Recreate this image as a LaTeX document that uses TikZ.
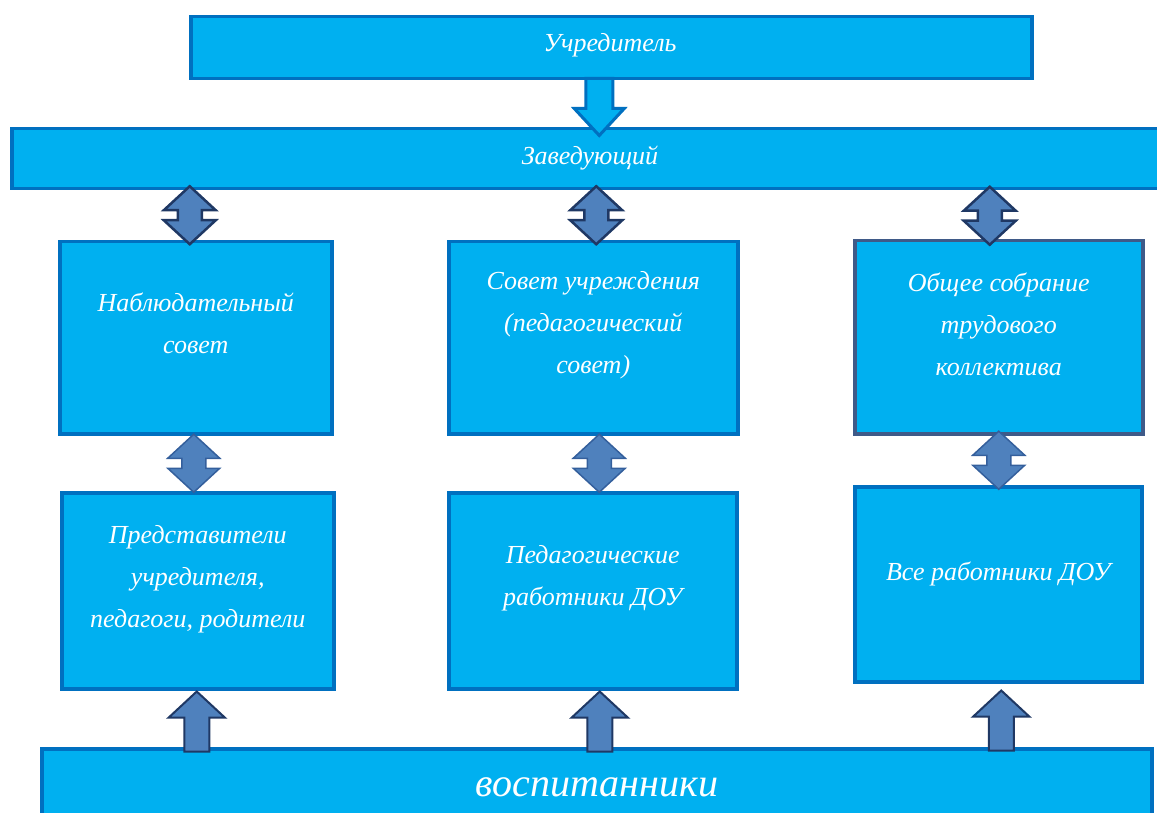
\documentclass[tikz,border=0pt]{standalone}
\usepackage{fontspec}
\setmainfont{Liberation Serif}
\usetikzlibrary{calc}
\definecolor{boxfill}{HTML}{00B0F0}
\definecolor{boxline}{HTML}{0070C0}
\definecolor{greyline}{HTML}{3F5A88}
\definecolor{arrfill}{HTML}{4F81BD}
\definecolor{arrdark}{HTML}{1F3864}
\definecolor{arrmid}{HTML}{345F9C}
\begin{document}
\begin{tikzpicture}[x=1pt,y=-1pt,
  box/.style={draw=boxline, fill=boxfill, line width=3.5pt, anchor=north west, inner sep=0pt},
  txt/.style={text=white, font=\itshape\fontsize{26}{42}\selectfont, align=center, inner sep=0pt},
  dblarrow/.pic={\path[pic actions] (0,-29) -- (26,-5) -- (12,-5) -- (12,5) -- (26,5) -- (0,29) -- (-26,5) -- (-12,5) -- (-12,-5) -- (-26,-5) -- cycle;},
  uparrow/.pic={\path[pic actions] (0,0) -- (28,26) -- (12.5,26) -- (12.5,60) -- (-12.5,60) -- (-12.5,26) -- (-28,26) -- cycle;},
  downarrow/.pic={\path[pic actions] (0,0) -- (25,-27) -- (13.5,-27) -- (13.5,-57) -- (-13.5,-57) -- (-13.5,-27) -- (-25,-27) -- cycle;},
  topdbl/.style={fill=arrfill, draw=arrdark, line width=2.5pt, line join=miter},
  lowdbl/.style={fill=arrfill, draw=arrmid, line width=1.5pt, line join=miter},
  uparr/.style={fill=arrfill, draw=arrdark, line width=2pt, line join=miter},
  downarr/.style={fill=boxfill, draw=boxline, line width=3pt, line join=miter}]
\useasboundingbox (0,0) rectangle (1157,813);

% boxes
\node[box, minimum width=841pt, minimum height=62pt] (uch) at (189,15) {};
\node[box, minimum width=1160pt, minimum height=60pt] (zav) at (10,127) {};
\node[box, minimum width=272pt, minimum height=192pt] (nab) at (58,240) {};
\node[box, minimum width=289pt, minimum height=192pt] (sov) at (447,240) {};
\node[box, draw=greyline, minimum width=288pt, minimum height=193pt] (obs) at (853,239) {};
\node[box, minimum width=272pt, minimum height=196pt] (pre) at (60,491) {};
\node[box, minimum width=288pt, minimum height=196pt] (ped) at (447,491) {};
\node[box, minimum width=287pt, minimum height=195pt] (vse) at (853,485) {};
\node[box, minimum width=1110pt, minimum height=90pt] (vos) at (40,747) {};

% texts
\node[txt] (tuch) at (610,45) {Учредитель};
\node[txt] (tzav) at (590,158) {Заведующий};
\node[txt] (tnab) at ($(nab.center)+(0,-14)$) {Наблюдательный\\совет};
\node[txt] (tsov) at ($(sov.center)+(0,-13)$) {Совет учреждения\\(педагогический\\совет)};
\node[txt] (tobs) at ($(obs.center)+(0,-13)$) {Общее собрание\\трудового\\коллектива};
\node[txt] (tpre) at ($(pre.center)+(0,-12)$) {Представители\\учредителя,\\педагоги, родители};
\node[txt] (tped) at ($(ped.center)+(0,-13)$) {Педагогические\\работники ДОУ};
\node[txt] (tvse) at ($(vse.center)+(0,-10)$) {Все работники ДОУ};
\node[txt, font=\itshape\fontsize{40}{44}\selectfont] (tvos) at (597,787) {воспитанники};

% arrows
\pic[downarr] at ($(uch.south)!0!(uch.south)+(-12,55)$) {downarrow};

\coordinate (m1) at ($(nab.north)!0.5!(nab.north |- zav.south)$);
\coordinate (m2) at ($(sov.north)!0.5!(sov.north |- zav.south)$);
\coordinate (m3) at ($(obs.north)!0.5!(obs.north |- zav.south)$);
\pic[topdbl] at ($(m1)+(-6,0)$) {dblarrow};
\pic[topdbl] at ($(m2)+(3,0)$) {dblarrow};
\pic[topdbl] at ($(m3)+(-9,1)$) {dblarrow};

\coordinate (n1) at ($(nab.south)!0.5!(nab.south |- pre.north)$);
\coordinate (n2) at ($(sov.south)!0.5!(sov.south |- ped.north)$);
\coordinate (n3) at ($(obs.south)!0.5!(obs.south |- vse.north)$);
\pic[lowdbl] at ($(n1)+(-2,0)$) {dblarrow};
\pic[lowdbl] at ($(n2)+(6,0)$) {dblarrow};
\pic[lowdbl] at ($(n3)+(0,0)$) {dblarrow};

\pic[uparr] at ($(pre.south)+(-1,1)$) {uparrow};
\pic[uparr] at ($(ped.south)+(7,1)$) {uparrow};
\pic[uparr] at ($(vse.south)+(3,7)$) {uparrow};
\end{tikzpicture}
\end{document}
